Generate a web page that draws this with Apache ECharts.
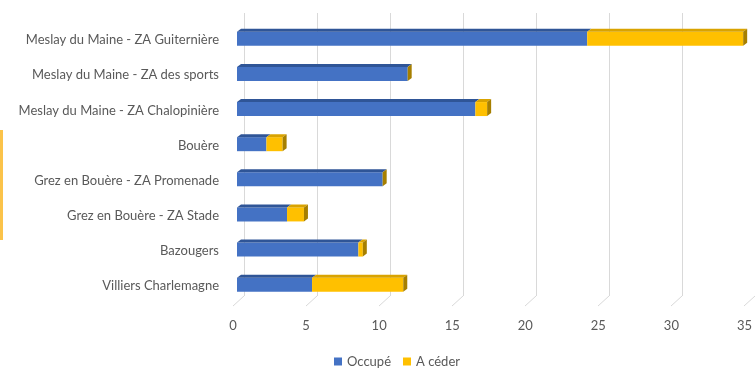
<!DOCTYPE html>
<html>
<head>
<meta charset="utf-8">
<script src="https://cdn.jsdelivr.net/npm/echarts@6/dist/echarts.min.js"></script>
<style>
html,body{margin:0;padding:0;background:#fff;}
#chart{width:755px;height:370px;}
</style>
</head>
<body>
<div id="chart"></div>
<script>
const categories = [
  'Meslay du Maine - ZA Guiternière',
  'Meslay du Maine - ZA des sports',
  'Meslay du Maine - ZA Chalopinière',
  'Bouère',
  'Grez en Bouère - ZA Promenade',
  'Grez en Bouère - ZA Stade',
  'Bazougers',
  'Villiers Charlemagne'
];
const occupe = [23.8, 11.6, 16.2, 2.0, 9.9, 3.4, 8.25, 5.1];
const aCeder = [10.6, 0, 0.8, 1.1, 0, 1.15, 0.3, 6.2];
const tickValues = [0, 5, 10, 15, 20, 25, 30, 35];
const seriesNames = ['Occupé', 'A céder'];

const FONT = 'Lato';
const TXT = '#595959';
const GRIDC = '#D9D9D9';

const blueData = categories.map((c, i) => [0, i, occupe[i]]);
const yellowData = categories.map((c, i) => [occupe[i], i, occupe[i] + aCeder[i]]);

function barRenderer(front, top, side, withSide) {
  return function (params, api) {
    const s = api.value(0), cat = api.value(1), e = api.value(2);
    const p0 = api.coord([s, cat]);
    const p1 = api.coord([e, cat]);
    const h = 14, dx = 4, dy = 3;
    const yc = p0[1] - 1.25;
    const yt = yc - h / 2, yb = yc + h / 2;
    const xs = p0[0], xe = p1[0];
    const children = [];
    if (xe > xs) {
      children.push({ type: 'rect', shape: { x: xs, y: yt, width: xe - xs, height: h }, style: { fill: front } });
      children.push({ type: 'polygon', shape: { points: [[xs, yt], [xe, yt], [xe + dx, yt - dy], [xs + dx, yt - dy]] }, style: { fill: top } });
    }
    if (withSide) {
      children.push({ type: 'polygon', shape: { points: [[xe, yt], [xe + dx, yt - dy], [xe + dx, yb - dy], [xe, yb]] }, style: { fill: side } });
    }
    return { type: 'group', children: children };
  };
}

const chart = echarts.init(document.getElementById('chart'), null, { renderer: 'canvas' });
chart.setOption({
  animation: false,
  backgroundColor: '#ffffff',
  textStyle: { fontFamily: FONT },
  grid: [
    { left: 237, width: 515, top: 22.5, height: 281 },
    { left: 244, width: 515, top: 13, height: 283 },
    { left: 233, width: 515, top: 300, height: 6 }
  ],
  xAxis: [
    { gridIndex: 0, type: 'value', min: 0, max: 35, interval: 5, show: false },
    { gridIndex: 1, type: 'value', min: 0, max: 35, interval: 5,
      axisLine: { show: false }, axisTick: { show: false }, axisLabel: { show: false },
      splitLine: { show: true, lineStyle: { color: GRIDC, width: 1 } } },
    { gridIndex: 2, type: 'value', min: 0, max: 35, interval: 5,
      axisLine: { show: false }, axisTick: { show: false }, splitLine: { show: false },
      axisLabel: { show: true, margin: 13, color: TXT, fontFamily: FONT, fontSize: 13 } }
  ],
  yAxis: [
    { gridIndex: 0, type: 'category', data: categories, inverse: true,
      axisLine: { show: false }, axisTick: { show: false }, splitLine: { show: false },
      axisLabel: { margin: 18, color: TXT, fontFamily: FONT, fontSize: 13 } },
    { gridIndex: 1, type: 'value', min: 0, max: 1, show: false },
    { gridIndex: 2, type: 'value', min: 0, max: 1, show: false }
  ],
  legend: {
    left: 334, top: 355, padding: 0,
    itemWidth: 8, itemHeight: 8, itemGap: 12,
    icon: 'rect',
    data: seriesNames,
    textStyle: { color: TXT, fontFamily: FONT, fontSize: 13 }
  },
  graphic: [
    { type: 'rect', left: 0, top: 130, shape: { width: 3, height: 110 }, style: { fill: '#FBC34A' } }
  ],
  series: [
    {
      type: 'custom', name: 'floor', xAxisIndex: 1, yAxisIndex: 1, silent: true,
      data: tickValues.map(v => [v, 0]),
      encode: { x: 0, y: 1 },
      renderItem: function (params, api) {
        const p = api.coord([api.value(0), 0]);
        return { type: 'line', shape: { x1: p[0], y1: p[1], x2: p[0] - 11, y2: p[1] + 10 }, style: { stroke: GRIDC, lineWidth: 1 } };
      }
    },
    {
      type: 'custom', name: seriesNames[0], xAxisIndex: 0, yAxisIndex: 0,
      itemStyle: { color: '#4472C4' },
      data: blueData, encode: { x: [0, 2], y: 1 },
      renderItem: barRenderer('#4472C4', '#2F5597', '#2F5597', false)
    },
    {
      type: 'custom', name: seriesNames[1], xAxisIndex: 0, yAxisIndex: 0,
      itemStyle: { color: '#FFC000' },
      data: yellowData, encode: { x: [0, 2], y: 1 },
      renderItem: barRenderer('#FFC000', '#D9A300', '#A67F00', true)
    }
  ]
});
</script>
</body>
</html>
